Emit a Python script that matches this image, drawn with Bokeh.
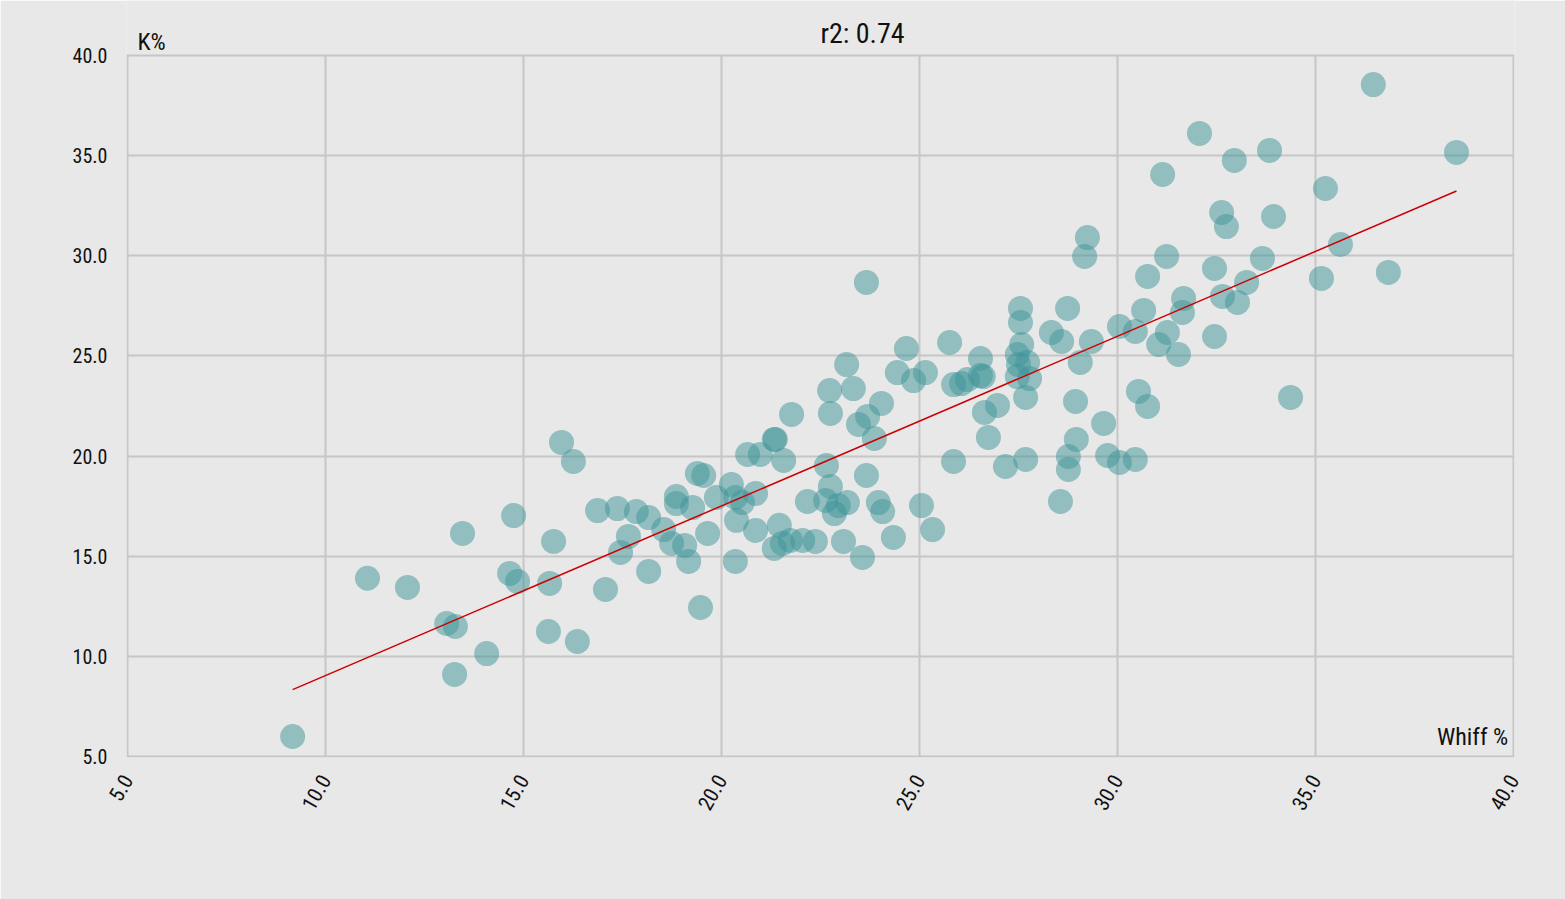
import math
import numpy as np
from bokeh.plotting import figure
from bokeh.models import Range1d, FixedTicker, PrintfTickFormatter, Label, ColumnDataSource
from bokeh.embed import file_html
from bokeh.resources import INLINE

# Whiff % (x) and K% (y) per pitcher
whiff = [9.17, 11.06, 12.07, 13.06, 13.28, 13.26, 13.46, 14.07, 14.75, 14.65,
         14.85, 15.66, 15.76, 15.63, 15.96, 16.26, 16.36, 16.87, 17.07, 17.37,
         17.45, 17.65, 17.85, 18.16, 18.16, 18.54, 18.74, 18.86, 18.86, 19.07,
         19.17, 19.27, 19.39, 19.55, 19.47, 19.65, 19.87, 20.25, 20.35, 20.38,
         20.35, 20.53, 20.66, 20.86, 20.86, 20.98, 21.33, 21.36, 21.46, 21.33,
         21.57, 21.54, 21.77, 21.74, 22.05, 22.17, 22.37, 22.65, 22.73, 22.75,
         22.75, 22.63, 22.85, 22.95, 23.18, 23.08, 23.16, 23.33, 23.46, 23.56,
         23.66, 23.66, 23.69, 23.86, 23.96, 24.07, 24.04, 24.34, 24.44, 24.67,
         24.85, 25.15, 25.05, 25.33, 25.76, 25.86, 25.86, 26.06, 26.21, 26.54,
         26.54, 26.61, 26.64, 26.74, 26.97, 27.17, 27.55, 27.55, 27.47, 27.58,
         27.50, 27.47, 27.73, 27.78, 27.68, 27.68, 28.33, 28.59, 28.56, 28.74,
         28.76, 28.76, 28.96, 28.94, 29.06, 29.17, 29.24, 29.34, 29.65, 29.75,
         30.05, 30.05, 30.45, 30.45, 30.53, 30.66, 30.76, 30.76, 31.04, 31.14,
         31.24, 31.26, 31.54, 31.64, 31.67, 32.07, 32.45, 32.45, 32.63, 32.65,
         32.75, 32.95, 33.03, 33.26, 33.66, 33.84, 33.94, 34.37, 35.15, 35.25,
         35.63, 36.84, 36.46, 38.56]
k_pct = [6.00, 13.90, 13.44, 11.64, 11.49, 9.10, 16.14, 10.14, 17.03, 14.14,
         13.74, 13.64, 15.74, 11.24, 20.68, 19.73, 10.74, 17.28, 13.34, 17.38,
         15.19, 15.99, 17.23, 14.24, 16.93, 16.33, 15.64, 17.98, 17.63, 15.54,
         14.74, 17.43, 19.13, 19.03, 12.44, 16.14, 17.93, 18.58, 17.93, 16.79,
         14.74, 17.68, 20.08, 18.13, 16.29, 20.08, 20.83, 20.83, 16.54, 15.39,
         19.78, 15.64, 22.08, 15.79, 15.79, 17.73, 15.74, 19.53, 23.27, 22.13,
         18.48, 17.78, 17.13, 17.53, 17.68, 15.74, 24.57, 23.37, 21.58, 14.94,
         19.03, 28.67, 21.98, 20.88, 17.68, 17.23, 22.63, 15.94, 24.17, 25.37,
         23.77, 24.17, 17.53, 16.33, 25.67, 23.57, 19.73, 23.62, 23.82, 24.87,
         24.02, 23.97, 22.18, 20.93, 22.53, 19.48, 27.37, 26.67, 25.07, 25.57,
         24.57, 23.97, 24.67, 23.87, 22.93, 19.83, 26.17, 25.72, 17.73, 27.37,
         19.98, 19.33, 20.83, 22.73, 24.67, 29.97, 30.91, 25.72, 21.63, 20.03,
         19.68, 26.47, 26.22, 19.83, 23.23, 27.27, 22.48, 28.97, 25.57, 34.06,
         29.97, 26.17, 25.07, 27.17, 27.87, 36.11, 29.37, 25.97, 32.16, 27.97,
         31.46, 34.76, 27.67, 28.67, 29.87, 35.26, 31.96, 22.93, 28.87, 33.36,
         30.56, 29.17, 38.55, 35.16]

ticks = [5, 10, 15, 20, 25, 30, 35, 40]
title_text = "r2: 0.74"
x_label = "Whiff %"
y_label = "K%"

FONT = "Roboto Condensed, Liberation Sans Narrow, Roboto, sans-serif"
BG = "#e8e8e8"
GRID = "#c6c6c6"

XPX = 39.6    # pixels per unit, x
YPX = 20.03   # pixels per unit, y
lo, hi = ticks[0], ticks[-1]

# the frame reaches up to the top of the canvas so the title texts can sit inside it
p = figure(width=1565, height=899, output_backend="svg", toolbar_location=None,
           x_range=Range1d(lo - 1 / XPX, hi + 1 / XPX),
           y_range=Range1d(lo - 1 / YPX, hi + 55 / YPX),
           min_border_left=126, min_border_right=51, min_border_top=0,
           min_border_bottom=142)
p.background_fill_color = BG
p.border_fill_color = BG
p.outline_line_color = None

for ax in (p.xaxis, p.yaxis):
    ax.ticker = FixedTicker(ticks=ticks)
    ax.formatter = PrintfTickFormatter(format="%.1f")
    ax.axis_line_color = None
    ax.major_tick_line_color = None
    ax.minor_tick_line_color = None
    ax.major_label_text_font = FONT
    ax.major_label_text_color = "#111111"
p.xaxis.major_label_text_font_size = "21px"
p.yaxis.major_label_text_font_size = "20px"
p.xaxis.major_label_orientation = math.radians(60)
p.xaxis.major_label_standoff = 13
p.yaxis.major_label_standoff = 13

p.xgrid.visible = False
p.ygrid.ticker = FixedTicker(ticks=ticks)
p.ygrid.grid_line_color = GRID
p.ygrid.grid_line_width = 2
p.segment(x0=ticks, y0=[lo] * len(ticks), x1=ticks, y1=[hi] * len(ticks),
          line_color=GRID, line_width=2)

src = ColumnDataSource(dict(x=whiff, y=k_pct))
p.scatter("x", "y", source=src, size=25, fill_color="#3e9498", fill_alpha=0.5,
          line_color=None)

xs = np.array(whiff)
ys = np.array(k_pct)
m, b = np.polyfit(xs, ys, 1)
lx = [xs.min(), xs.max()]
p.line(lx, [m * v + b for v in lx], line_color="#cc0000", line_width=1.5)

p.add_layout(Label(x=23.56, y=41.08, text=title_text, text_align="center",
                   text_baseline="alphabetic", text_font=FONT, text_font_size="28px",
                   text_color="#111111"))
p.add_layout(Label(x=5.25, y=40.65, text=y_label, text_align="left",
                   text_baseline="alphabetic", text_font=FONT, text_font_size="24px",
                   text_color="#111111"))
p.add_layout(Label(x=39.866, y=5.95, text=x_label, text_align="right",
                   text_baseline="alphabetic", text_font=FONT, text_font_size="24px",
                   text_color="#111111"))

open("out.html", "w").write(file_html(p, INLINE))
